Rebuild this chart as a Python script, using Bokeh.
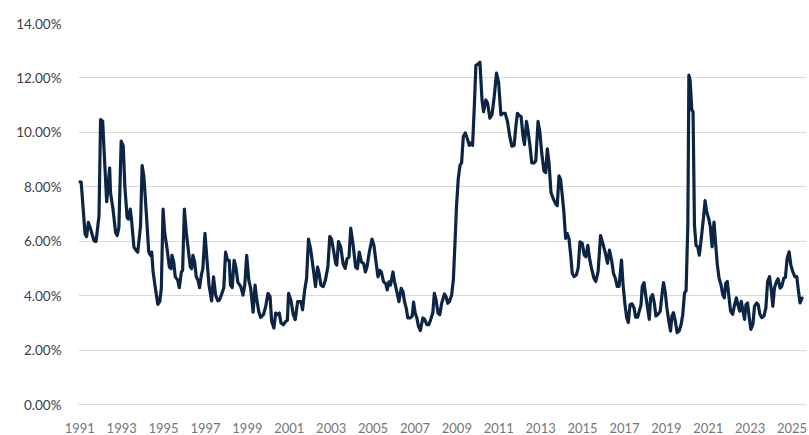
from bokeh.plotting import figure
from bokeh.models import FixedTicker, PrintfTickFormatter, Range1d
from bokeh.embed import file_html
from bokeh.resources import INLINE

# months elapsed since Jan 1991 (traced vertices) and unemployment rate (%)
months = [
    0, 0.8, 3.0, 3.9, 4.9, 6.2, 8.1, 9.3, 11.0, 11.9, 13.1, 13.8, 15.4, 17.1, 17.6, 19.0,
    20.5, 21.4, 22.4, 23.7, 24.9, 25.8, 27.1, 27.9, 28.9, 29.6, 31.0, 32.3, 33.2, 34.8,
    35.7, 36.7, 38.2, 39.5, 40.5, 41.2, 42.0, 43.3, 44.7, 45.8, 46.7, 47.7, 48.6, 50.0,
    51.3, 52.3, 52.8, 53.8, 54.7, 56.1, 57.0, 58.2, 58.9, 59.9, 61.0, 62.3, 63.3, 64.1,
    64.8, 65.8, 66.7, 67.7, 68.6, 69.6, 70.5, 71.7, 72.8, 74.0, 75.5, 76.6, 77.8, 79.1,
    80.0, 81.4, 82.5, 83.5, 84.6, 85.6, 86.3, 87.3, 88.4, 89.4, 90.5, 92.2, 93.5, 94.5,
    95.6, 96.8, 97.9, 99.3, 100.4, 101.3, 102.5, 103.6, 105.2, 106.5, 107.8, 109.0,
    109.9, 111.2, 112.2, 113.3, 114.3, 115.2, 116.6, 117.9, 118.9, 119.6, 120.9, 122.3,
    123.4, 124.8, 125.7, 126.7, 127.6, 128.7, 129.9, 131.0, 132.2, 133.7, 135.0, 136.2,
    137.1, 138.1, 139.4, 140.7, 142.1, 143.2, 144.2, 145.5, 146.6, 147.2, 148.2, 149.5,
    150.8, 152.0, 153.1, 154.2, 155.2, 156.5, 158.0, 159.0, 160.1, 161.3, 162.6, 163.6,
    164.5, 166.0, 167.4, 168.5, 169.8, 170.8, 171.8, 172.7, 174.0, 175.2, 176.1, 177.1,
    178.0, 179.4, 180.3, 181.6, 182.8, 184.1, 185.1, 186.0, 187.0, 187.9, 189.2, 190.4,
    191.2, 192.1, 193.1, 194.0, 195.1, 196.5, 197.6, 198.8, 199.9, 201.0, 202.2, 203.1,
    204.1, 205.2, 206.2, 207.3, 208.9, 209.8, 210.8, 211.7, 213.0, 214.0, 214.9, 215.8,
    216.8, 217.8, 218.7, 219.7, 220.8, 222.2, 223.1, 224.1, 225.0, 226.0, 226.9, 227.9,
    229.2, 230.4, 231.3, 232.6, 233.6, 234.9, 236.1, 237.4, 238.7, 239.9, 241.2, 242.5,
    243.7, 245.0, 246.3, 247.5, 248.8, 249.8, 250.7, 251.9, 252.8, 253.9, 254.7, 255.9,
    256.8, 257.8, 258.9, 260.2, 261.2, 262.5, 263.5, 264.6, 265.9, 266.9, 267.8, 268.8,
    269.9, 271.3, 272.6, 273.5, 274.5, 275.4, 276.4, 277.3, 278.3, 279.2, 280.2, 281.2,
    282.1, 283.1, 284.4, 285.5, 286.5, 287.8, 289.0, 289.9, 291.0, 292.0, 293.1, 294.5,
    295.6, 296.9, 298.3, 299.6, 301.1, 302.3, 303.4, 304.6, 305.7, 306.8, 307.8, 308.9,
    310.3, 311.2, 312.3, 313.3, 314.2, 315.2, 316.3, 317.5, 318.4, 319.6, 320.5, 321.5,
    322.2, 323.2, 324.1, 325.1, 326.2, 327.0, 328.1, 329.1, 330.0, 331.2, 332.5, 333.6,
    334.4, 335.4, 336.3, 337.4, 338.4, 339.2, 340.1, 341.1, 342.2, 343.3, 344.5, 345.4,
    346.4, 347.3, 348.3, 348.9, 349.6, 350.6, 351.3, 352.1, 353.0, 354.0, 354.9, 355.9,
    357.2, 358.2, 359.1, 360.3, 361.2, 362.2, 363.3, 364.3, 365.2, 366.2, 367.3, 368.3,
    369.2, 370.0, 370.9, 371.9, 372.8, 374.0, 374.9, 376.1, 377.0, 378.0, 378.9, 379.9,
    380.8, 381.6, 382.5, 383.5, 384.4, 385.6, 386.5, 387.7, 388.6, 389.6, 390.7, 391.9,
    393.0, 394.0, 395.1, 396.2, 397.0, 397.9, 399.1, 400.0, 401.2, 402.1, 403.3, 404.2,
    405.2, 406.3, 407.3, 408.4, 409.6, 410.7, 411.7, 412.6, 413.7,
]
rate = [
    8.18, 8.17, 6.27, 6.17, 6.69, 6.45, 6.02, 5.99, 6.93, 10.47, 10.41, 9.48, 7.45, 8.69, 7.78, 7.18,
    6.33, 6.21, 6.51, 9.68, 9.50, 8.02, 6.87, 6.81, 7.18, 6.81, 5.78, 5.66, 5.60, 6.57,
    8.78, 8.39, 6.93, 5.60, 5.48, 5.60, 4.87, 4.27, 3.68, 3.78, 4.27, 7.18, 6.33, 5.72,
    5.05, 4.99, 5.48, 5.24, 4.69, 4.57, 4.29, 4.87, 4.93, 7.18, 6.33, 5.60, 5.05, 4.99,
    5.48, 5.24, 4.69, 4.57, 4.29, 4.75, 4.99, 6.29, 5.36, 4.39, 3.81, 4.69, 4.02, 3.81,
    3.84, 4.08, 4.29, 5.60, 5.30, 5.30, 4.39, 4.29, 5.30, 5.05, 4.50, 4.33, 4.02, 4.39,
    5.48, 4.57, 4.27, 3.39, 4.39, 3.90, 3.42, 3.20, 3.30, 3.60, 4.08, 3.96,
    3.05, 2.81, 3.36, 3.30, 3.36, 3.00, 2.93, 3.05, 3.09, 4.08, 3.84, 3.30,
    3.12, 3.78, 3.78, 3.78, 3.48, 4.15, 4.63, 6.08, 5.72, 5.00, 4.33, 5.05,
    4.81, 4.39, 4.33, 4.57, 5.05, 6.18, 6.08, 5.60, 5.18, 5.12, 5.99, 5.78,
    5.18, 5.00, 5.36, 5.42, 6.48, 5.90, 5.05, 4.99, 5.60, 5.24, 5.18, 4.87,
    5.05, 5.66, 6.08, 5.84, 5.18, 4.69, 4.93, 4.87, 4.51, 4.45, 4.21, 4.51,
    4.39, 4.87, 4.51, 4.15, 3.78, 4.27, 4.15, 3.78, 3.54, 3.18, 3.18, 3.24,
    3.76, 3.36, 3.18, 2.87, 2.72, 3.18, 3.12, 2.93, 2.93, 3.12, 3.36, 4.08,
    3.84, 3.36, 3.30, 3.72, 4.06, 3.96, 3.72, 3.78, 4.02, 4.60, 5.90, 7.30,
    8.30, 8.79, 8.88, 9.85, 9.98, 9.73, 9.52, 9.61, 9.52, 10.95, 12.46, 12.50,
    12.58, 11.19, 10.76, 11.19, 11.07, 10.52, 10.64, 11.31, 12.18, 11.85, 10.64, 10.70,
    10.70, 10.40, 9.85, 9.49, 9.52, 10.22, 10.70, 10.61, 10.58, 9.85, 9.55, 10.40,
    10.04, 9.55, 8.88, 8.88, 8.95, 10.40, 10.04, 9.25, 8.58, 8.52, 9.39, 8.88,
    7.79, 7.55, 7.37, 7.31, 8.40, 8.28, 7.67, 7.07, 6.10, 6.28, 6.10, 5.49,
    4.82, 4.70, 4.76, 5.01, 5.98, 5.92, 5.49, 5.43, 5.85, 5.37, 5.01, 4.64,
    4.52, 4.88, 6.21, 5.92, 5.55, 5.19, 5.67, 5.31, 4.82, 4.64, 4.34, 4.34,
    5.31, 4.40, 3.67, 3.19, 3.01, 3.67, 3.70, 3.55, 3.21, 3.21, 3.43, 3.67,
    4.34, 4.48, 4.04, 3.61, 3.13, 3.92, 4.04, 3.73, 3.25, 3.31, 3.43, 4.10,
    4.48, 4.10, 3.55, 3.07, 2.70, 3.25, 3.37, 3.07, 2.64, 2.70, 2.95, 3.31,
    4.10, 4.18, 6.58, 12.10, 11.92, 10.82, 10.76, 6.58, 5.85, 5.79, 5.49, 6.04,
    6.82, 7.49, 7.07, 6.82, 6.52, 5.79, 6.70, 5.85, 5.13, 4.64, 4.40, 4.04,
    3.92, 4.46, 4.52, 3.92, 3.43, 3.31, 3.61, 3.92, 3.67, 3.43, 3.79, 3.43,
    3.13, 3.67, 3.73, 3.19, 2.76, 2.95, 3.61, 3.73, 3.67, 3.31, 3.19, 3.25,
    3.55, 4.52, 4.70, 4.16, 3.61, 4.28, 4.52, 4.62, 4.28, 4.34, 4.64, 4.67,
    5.37, 5.61, 5.13, 4.88, 4.70, 4.70, 4.16, 3.73, 3.91,
]
start_year = 1991
year_ticks = list(range(1991, 2026, 2))
pct_ticks = [0, 2, 4, 6, 8, 10, 12, 14]

xs = [start_year + m / 12.0 for m in months]

p = figure(width=809, height=435, output_backend="svg", toolbar_location=None,
           x_range=Range1d(1990.938, 2025.69), y_range=Range1d(0, 14),
           min_border_left=78, min_border_right=3, min_border_top=23, min_border_bottom=29)
p.outline_line_color = None
p.background_fill_color = "white"
p.border_fill_color = "white"

p.line(xs, rate, line_color="#0d2545", line_width=3.2, line_join="round", line_cap="round")

p.xgrid.visible = False
p.ygrid.grid_line_color = "#d9d9d9"
p.ygrid.grid_line_width = 1
p.ygrid.ticker = FixedTicker(ticks=pct_ticks)

p.yaxis.ticker = FixedTicker(ticks=pct_ticks)
p.yaxis.formatter = PrintfTickFormatter(format="%.2f%%")
p.yaxis.axis_line_color = None
p.yaxis.major_tick_line_color = None
p.yaxis.minor_tick_line_color = None
p.yaxis.major_label_standoff = 11
p.yaxis.major_label_text_font = "Lato"
p.yaxis.major_label_text_font_size = "13.5px"
p.yaxis.major_label_text_color = "#404040"

p.xaxis.ticker = FixedTicker(ticks=year_ticks)
p.xaxis.major_label_overrides = {y: str(y) for y in year_ticks}
p.xaxis.axis_line_color = "#d9d9d9"
p.xaxis.major_tick_line_color = None
p.xaxis.minor_tick_line_color = None
p.xaxis.major_label_standoff = 12
p.xaxis.major_label_text_font = "Lato"
p.xaxis.major_label_text_font_size = "13px"
p.xaxis.major_label_text_color = "#767676"

open("out.html", "w").write(file_html(p, INLINE))
